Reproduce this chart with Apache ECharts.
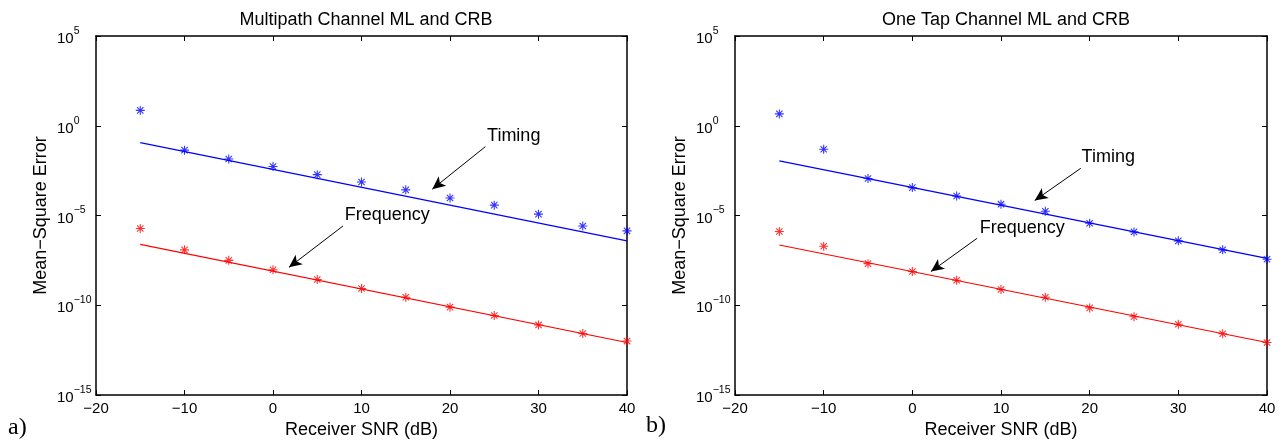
<!DOCTYPE html>
<html>
<head>
<meta charset="utf-8">
<script src="https://cdn.jsdelivr.net/npm/echarts@6/dist/echarts.min.js"></script>
<style>
html,body{margin:0;padding:0;background:#fff;}
#c{width:1283px;height:444px;}
</style>
</head>
<body>
<div id="c"></div>
<script>
// ---- data ----
var snr = [-15, -10, -5, 0, 5, 10, 15, 20, 25, 30, 35, 40];
var xTicks = [-20, -10, 0, 10, 20, 30, 40];
var yTickExps = [-15, -10, -5, 0, 5];

// (a) Multipath channel
var multiTimingML = [7.2, 4.4e-2, 1.4e-2, 5.4e-3, 1.9e-3, 7.4e-4, 2.7e-4, 9.5e-5, 3.8e-5, 1.2e-5, 2.6e-6, 1.4e-6];
var multiTimingCRB = [[-15, 0.115], [40, 3.9e-7]];
var multiFreqML = [1.9e-6, 1.23e-7, 3.2e-8, 9.5e-9, 2.75e-9, 8.7e-10, 2.8e-10, 7.9e-11, 2.7e-11, 8.1e-12, 2.7e-12, 1.02e-12];
var multiFreqCRB = [[-15, 2.5e-7], [40, 8.5e-13]];

// (b) One tap channel
var oneTimingML = [4.6, 4.9e-2, 1.15e-3, 3.6e-4, 1.23e-4, 4.3e-5, 1.74e-5, 3.7e-6, 1.23e-6, 3.9e-7, 1.23e-7, 3.7e-8];
var oneTimingCRB = [[-15, 1.1e-2], [40, 4.1e-8]];
var oneFreqML = [1.29e-6, 1.95e-7, 2.1e-8, 7.6e-9, 2.5e-9, 7.6e-10, 2.8e-10, 7.2e-11, 2.3e-11, 8.9e-12, 2.6e-12, 8.5e-13];
var oneFreqCRB = [[-15, 2.3e-7], [40, 8.5e-13]];

var titles = ['Multipath Channel ML and CRB', 'One Tap Channel ML and CRB'];
var panelTags = ['a)', 'b)'];

// ---- styling ----
var FONT = 'Liberation Sans, Arial, Helvetica, sans-serif';
var MINUS = '\u2212';
var ASTERISK = 'path://M8.8 0L11.2 0L11.2 20L8.8 20Z M0 8.8L20 8.8L20 11.2L0 11.2Z M2.1 3.8L3.8 2.1L17.9 16.2L16.2 17.9Z M16.2 2.1L17.9 3.8L3.8 17.9L2.1 16.2Z';

function pairs(xs, ys) { return xs.map(function (x, i) { return [x, ys[i]]; }); }

var grids = [
  { left: 96, right: 656, top: 36, bottom: 48 },
  { left: 735, right: 16, top: 36, bottom: 48 }
];

var xAxes = [], yAxes = [], series = [];
grids.forEach(function (g, gi) {
  xAxes.push({
    type: 'value', gridIndex: gi, position: 'bottom', min: -20, max: 40, interval: 10,
    axisLine: { show: true, onZero: false, lineStyle: { color: '#000', width: 1.5 } },
    axisTick: { show: true, inside: true, length: 5, lineStyle: { color: '#000', width: 1 } },
    splitLine: { show: false },
    axisLabel: {
      color: '#000', fontFamily: FONT, fontSize: 15, margin: 6,
      formatter: function (v) { return String(v).replace('-', MINUS); }
    },
    name: 'Receiver SNR (dB)', nameLocation: 'middle', nameGap: 23,
    nameTextStyle: { color: '#000', fontFamily: FONT, fontSize: 18 }
  });
  xAxes.push({
    type: 'value', gridIndex: gi, position: 'top', min: -20, max: 40, interval: 10,
    axisLine: { show: true, onZero: false, lineStyle: { color: '#000', width: 1.5 } },
    axisTick: { show: true, inside: true, length: 5, lineStyle: { color: '#000', width: 1 } },
    splitLine: { show: false }, axisLabel: { show: false }
  });
  yAxes.push({
    type: 'log', logBase: 10, gridIndex: gi, position: 'left', min: 1e-15, max: 1e5, interval: 5,
    axisLine: { show: true, onZero: false, lineStyle: { color: '#000', width: 1.5 } },
    axisTick: { show: true, inside: true, length: 5, lineStyle: { color: '#000', width: 1 } },
    splitLine: { show: false }, minorTick: { show: false },
    axisLabel: {
      align: 'left', margin: 39, color: '#000',
      formatter: function (v) {
        var e = Math.round(Math.log10(v));
        return '{b|10}{s|' + String(e).replace('-', MINUS) + '}';
      },
      rich: {
        b: { fontFamily: FONT, fontSize: 15, color: '#000', verticalAlign: 'bottom' },
        s: { fontFamily: FONT, fontSize: 10.5, color: '#000', verticalAlign: 'bottom', padding: [0, 0, 10, 0] }
      }
    },
    name: 'Mean' + '\u2212' + 'Square Error', nameLocation: 'middle', nameGap: 46,
    nameTextStyle: { color: '#000', fontFamily: FONT, fontSize: 18 }
  });
  yAxes.push({
    type: 'log', logBase: 10, gridIndex: gi, position: 'right', min: 1e-15, max: 1e5, interval: 5,
    axisLine: { show: true, onZero: false, lineStyle: { color: '#000', width: 1.5 } },
    axisTick: { show: true, inside: true, length: 5, lineStyle: { color: '#000', width: 1 } },
    splitLine: { show: false }, minorTick: { show: false }, axisLabel: { show: false }
  });
});

function annot(textPos, text, from, to) {
  return {
    markPoint: {
      symbol: 'circle', symbolSize: 0, silent: true,
      label: { show: true, position: 'inside', formatter: text, color: '#000', fontFamily: FONT, fontSize: 18 },
      data: [{ coord: textPos }]
    },
    markLine: {
      silent: true, symbol: ['none', 'arrow'], symbolSize: [9, 13],
      lineStyle: { color: '#000', width: 1, type: 'solid' },
      label: { show: false },
      data: [[{ coord: from }, { coord: to }]]
    }
  };
}

var panels = [
  { tml: multiTimingML, tcrb: multiTimingCRB, fml: multiFreqML, fcrb: multiFreqCRB,
    ta: annot([27.2, 0.27], 'Timing', [24.0, 0.069], [18.0, 2.95e-4]),
    fa: annot([12.9, 1.05e-5], 'Frequency', [7.9, 2.6e-6], [1.8, 1.3e-8]) },
  { tml: oneTimingML, tcrb: oneTimingCRB, fml: oneFreqML, fcrb: oneFreqCRB,
    ta: annot([22.1, 0.019], 'Timing', [19.0, 4.3e-3], [13.8, 6.9e-5]),
    fa: annot([12.4, 2.1e-6], 'Frequency', [7.3, 5.4e-7], [2.1, 7.6e-9]) }
];

panels.forEach(function (p, gi) {
  var xi = gi * 2, yi = gi * 2;
  series.push(Object.assign({
    type: 'line', xAxisIndex: xi, yAxisIndex: yi, data: p.tcrb, showSymbol: false, symbol: 'none',
    lineStyle: { color: '#0000ff', width: 1.2 }, z: 2
  }, p.ta));
  series.push({
    type: 'scatter', xAxisIndex: xi, yAxisIndex: yi, data: pairs(snr, p.tml),
    symbol: ASTERISK, symbolSize: 9, itemStyle: { color: '#0000ff' }, z: 3
  });
  series.push(Object.assign({
    type: 'line', xAxisIndex: xi, yAxisIndex: yi, data: p.fcrb, showSymbol: false, symbol: 'none',
    lineStyle: { color: '#ff0000', width: 1.2 }, z: 2
  }, p.fa));
  series.push({
    type: 'scatter', xAxisIndex: xi, yAxisIndex: yi, data: pairs(snr, p.fml),
    symbol: ASTERISK, symbolSize: 9, itemStyle: { color: '#ff0000' }, z: 3
  });
});

var chart = echarts.init(document.getElementById('c'), null, { renderer: 'canvas' });
chart.setOption({
  backgroundColor: '#fff',
  animation: false,
  title: [
    { text: titles[0], left: 361, top: 6, textAlign: 'center',
      textStyle: { fontFamily: FONT, fontSize: 18, fontWeight: 'normal', color: '#000' } },
    { text: titles[1], left: 1001, top: 6, textAlign: 'center',
      textStyle: { fontFamily: FONT, fontSize: 18, fontWeight: 'normal', color: '#000' } }
  ],
  grid: grids,
  xAxis: xAxes,
  yAxis: yAxes,
  series: series,
  graphic: [
    { type: 'text', left: 8, top: 416, style: { text: panelTags[0], font: '24px "Liberation Serif", "Times New Roman", serif', fill: '#000' } },
    { type: 'text', left: 646, top: 414, style: { text: panelTags[1], font: '24px "Liberation Serif", "Times New Roman", serif', fill: '#000' } }
  ]
});
</script>
</body>
</html>
